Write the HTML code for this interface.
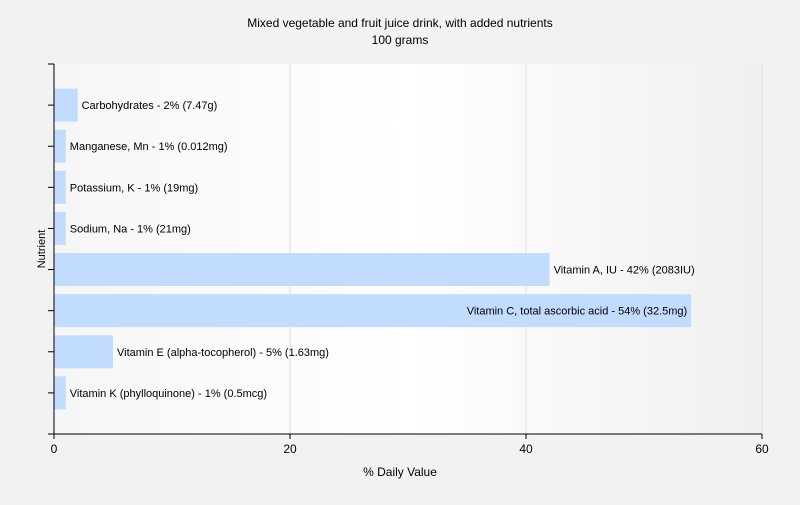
<!DOCTYPE html>
<html><head><meta charset="utf-8"><style>
body{margin:0;background:#f2f2f2;font-family:"Liberation Sans",sans-serif;}
svg text{font-family:"Liberation Sans",sans-serif;}
</style></head><body>
<svg width="800" height="500" xmlns="http://www.w3.org/2000/svg">
<defs><linearGradient id="bg" x1="0" x2="1" y1="0" y2="0">
<stop offset="0" stop-color="#f6f6f6"/><stop offset="0.5" stop-color="#ffffff"/><stop offset="1" stop-color="#f0f0f0"/></linearGradient></defs>
<rect width="800" height="500" fill="#f2f2f2"/>
<text x="400" y="27" text-anchor="middle" font-size="12">Mixed vegetable and fruit juice drink, with added nutrients</text>
<text x="400" y="44" text-anchor="middle" font-size="12">100 grams</text>
<rect x="54" y="64" width="708" height="370" fill="url(#bg)"/>
<g id="grid"></g><g id="bars"></g><g id="axes"></g>
<text x="400" y="476" text-anchor="middle" font-size="12">% Daily Value</text>
<text transform="translate(45,249) rotate(-90)" text-anchor="middle" font-size="11">Nutrient</text>
</svg>
<script>
const categories=["Carbohydrates","Manganese, Mn","Potassium, K","Sodium, Na","Vitamin A, IU","Vitamin C, total ascorbic acid","Vitamin E (alpha-tocopherol)","Vitamin K (phylloquinone)"];
const values=[2,1,1,1,42,54,5,1];
const amounts=["7.47g","0.012mg","19mg","21mg","2083IU","32.5mg","1.63mg","0.5mcg"];
const ticks=[0,20,40,60];
const NS="http://www.w3.org/2000/svg";
const L=54,R=762,T=64,B=434;
const x=v=>L+(v-0)/(60-0)*(R-L);
const band=(B-T)/(categories.length+1);
const y=i=>T+band*(i+1);
function mk(t,a,p){const e=document.createElementNS(NS,t);for(const k in a)e.setAttribute(k,a[k]);p.appendChild(e);return e;}
const grid=document.getElementById('grid'),bars=document.getElementById('bars'),axes=document.getElementById('axes');
ticks.forEach(t=>{
 if(t>0){const g=mk('line',{x1:x(t),x2:x(t),y1:T,y2:B,stroke:'#e0e0e0'},grid);
 
 }
 const tk=mk('line',{x1:x(t),x2:x(t),y1:B,y2:B+5,stroke:'#000'},axes);
 
 
 const tl=mk('text',{x:x(t),y:B+19,'text-anchor':'middle','font-size':12},axes);
 tl.textContent=t;
 
 
});
categories.forEach((c,i)=>{
 const cy=y(i),h=33;
 const r=mk('rect',{x:x(0),y:cy-h/2,width:x(values[i])-x(0),height:h,fill:'#c2dcff'},bars);
 
 
 const label=c+' - '+values[i]+'% ('+amounts[i]+')';
 const inside=values[i]>45;
 const t=mk('text',{x:inside?x(values[i])-4:x(values[i])+4,y:cy+4,'text-anchor':inside?'end':'start','font-size':11},bars);
 t.textContent=label;
 
 
 const tk=mk('line',{x1:L-6,x2:L,y1:cy,y2:cy,stroke:'#000'},axes);
 
 
});
const ya=mk('line',{x1:L,x2:L,y1:T,y2:B,stroke:'#000'},axes);


const yt=mk('line',{x1:L-6,x2:L,y1:T,y2:T,stroke:'#000'},axes);


const xa=mk('line',{x1:L-6,x2:R,y1:B,y2:B,stroke:'#000'},axes);


</script>
</body></html>
